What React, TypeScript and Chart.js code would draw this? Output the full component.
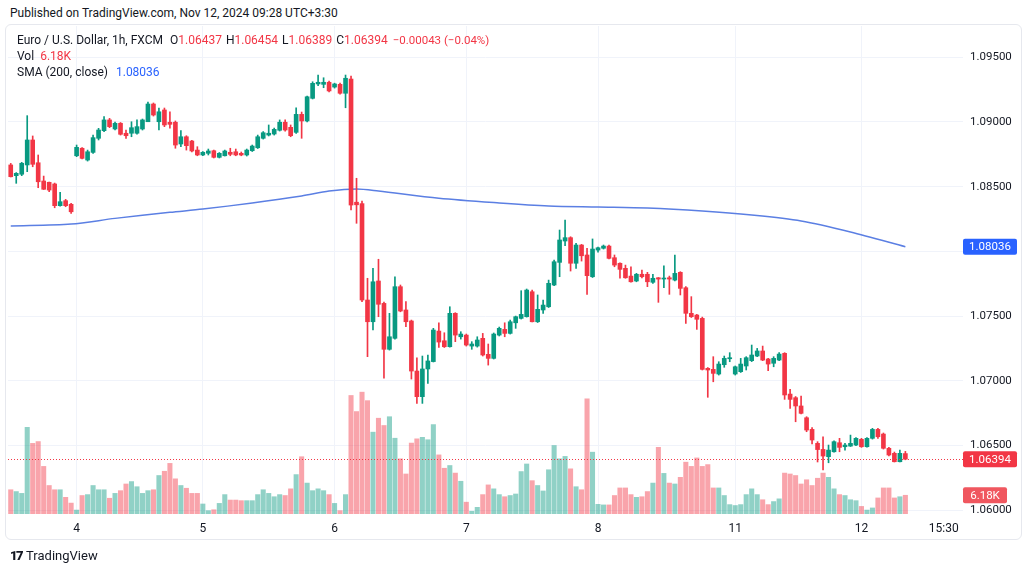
import React, { useEffect, useRef } from "react";
import { Chart, registerables } from "chart.js";

Chart.register(...registerables);

// ---------- DATA (EUR/USD 1h, FXCM) ----------
const openP = [
  1.08668, 1.08585, 1.08596, 1.08668, 1.08861, 1.08685, 1.08544, 1.08534, 1.08521, 1.08353, 1.08392, 1.08364,
  1.08739, 1.08797, 1.08706, 1.08765, 1.08874, 1.08933, 1.09016, 1.08946, 1.08990, 1.08913, 1.08913, 1.08913,
  1.08946, 1.09002, 1.09139, 1.09002, 1.09093, 1.08998, 1.08998, 1.08830, 1.08886, 1.08853, 1.08783, 1.08745,
  1.08758, 1.08778, 1.08727, 1.08739, 1.08766, 1.08770, 1.08758, 1.08745, 1.08778, 1.08801, 1.08874, 1.08899,
  1.08907, 1.08936, 1.08998, 1.08959, 1.08920, 1.09059, 1.09008, 1.09183, 1.09294, 1.09291, 1.09307, 1.09270,
  1.09291, 1.09222, 1.09332, 1.08380, 1.08369, 1.07624, 1.07456, 1.07771, 1.07598, 1.07243, 1.07328, 1.07727,
  1.07547, 1.07462, 1.07075, 1.06877, 1.07091, 1.07148, 1.07384, 1.07309, 1.07263, 1.07521, 1.07340, 1.07353,
  1.07268, 1.07268, 1.07328, 1.07204, 1.07173, 1.07353, 1.07397, 1.07366, 1.07448, 1.07482, 1.07495, 1.07688,
  1.07456, 1.07547, 1.07572, 1.07740, 1.07915, 1.08080, 1.08106, 1.07908, 1.08049, 1.07972, 1.07804, 1.08010,
  1.08024, 1.08041, 1.07951, 1.07908, 1.07869, 1.07809, 1.07771, 1.07823, 1.07823, 1.07761, 1.07796, 1.07786,
  1.07796, 1.07778, 1.07838, 1.07719, 1.07521, 1.07508, 1.07482, 1.07096, 1.07088, 1.07052, 1.07124, 1.07170,
  1.07052, 1.07070, 1.07114, 1.07155, 1.07191, 1.07230, 1.07168, 1.07135, 1.07160, 1.07212, 1.06897, 1.06869,
  1.06805, 1.06714, 1.06624, 1.06516, 1.06469, 1.06413, 1.06451, 1.06521, 1.06490, 1.06495, 1.06503, 1.06547,
  1.06490, 1.06555, 1.06624, 1.06588, 1.06478, 1.06439, 1.06374, 1.06437,
];
const highP = [
  1.08680, 1.08609, 1.08688, 1.09049, 1.08892, 1.08745, 1.08582, 1.08536, 1.08528, 1.08456, 1.08402, 1.08372,
  1.08822, 1.08803, 1.08783, 1.08899, 1.08951, 1.09041, 1.09028, 1.09000, 1.08996, 1.08938, 1.09002, 1.09016,
  1.09023, 1.09154, 1.09147, 1.09108, 1.09108, 1.09079, 1.09008, 1.08933, 1.08894, 1.08859, 1.08809, 1.08772,
  1.08791, 1.08783, 1.08764, 1.08783, 1.08797, 1.08791, 1.08768, 1.08791, 1.08822, 1.08899, 1.08926, 1.08977,
  1.08953, 1.09016, 1.09016, 1.08977, 1.09110, 1.09077, 1.09201, 1.09311, 1.09363, 1.09342, 1.09317, 1.09300,
  1.09301, 1.09363, 1.09355, 1.08565, 1.08389, 1.07792, 1.07869, 1.07939, 1.07608, 1.07521, 1.07804, 1.07740,
  1.07611, 1.07469, 1.07178, 1.07191, 1.07199, 1.07405, 1.07448, 1.07371, 1.07572, 1.07526, 1.07379, 1.07361,
  1.07302, 1.07340, 1.07366, 1.07284, 1.07369, 1.07415, 1.07448, 1.07469, 1.07500, 1.07696, 1.07709, 1.07701,
  1.07663, 1.07624, 1.07778, 1.07933, 1.08165, 1.08242, 1.08113, 1.08062, 1.08054, 1.08024, 1.08096, 1.08034,
  1.08049, 1.08049, 1.07972, 1.07912, 1.07894, 1.07881, 1.07830, 1.07856, 1.07838, 1.07823, 1.07798, 1.07889,
  1.07809, 1.07972, 1.07843, 1.07727, 1.07650, 1.07513, 1.07492, 1.07102, 1.07186, 1.07147, 1.07191, 1.07217,
  1.07114, 1.07173, 1.07186, 1.07276, 1.07250, 1.07268, 1.07173, 1.07186, 1.07217, 1.07217, 1.06934, 1.06878,
  1.06882, 1.06722, 1.06638, 1.06529, 1.06567, 1.06503, 1.06536, 1.06555, 1.06516, 1.06580, 1.06561, 1.06555,
  1.06561, 1.06632, 1.06632, 1.06596, 1.06485, 1.06449, 1.06464, 1.06454,
];
const lowP = [
  1.08575, 1.08526, 1.08585, 1.08616, 1.08654, 1.08492, 1.08478, 1.08461, 1.08337, 1.08350, 1.08345, 1.08294,
  1.08732, 1.08714, 1.08698, 1.08758, 1.08861, 1.08925, 1.08956, 1.08938, 1.08899, 1.08874, 1.08886, 1.08905,
  1.08938, 1.09002, 1.09046, 1.08938, 1.08964, 1.08953, 1.08797, 1.08809, 1.08783, 1.08768, 1.08739, 1.08740,
  1.08745, 1.08722, 1.08722, 1.08737, 1.08739, 1.08739, 1.08739, 1.08737, 1.08772, 1.08795, 1.08868, 1.08892,
  1.08899, 1.08930, 1.08930, 1.08886, 1.08912, 1.08874, 1.09000, 1.09178, 1.09280, 1.09265, 1.09232, 1.09262,
  1.09216, 1.09110, 1.08320, 1.08217, 1.07611, 1.07186, 1.07392, 1.07495, 1.07019, 1.07237, 1.07322, 1.07533,
  1.07418, 1.07013, 1.06825, 1.06825, 1.06980, 1.07145, 1.07258, 1.07257, 1.07260, 1.07302, 1.07322, 1.07268,
  1.07243, 1.07260, 1.07191, 1.07121, 1.07168, 1.07346, 1.07340, 1.07361, 1.07405, 1.07477, 1.07492, 1.07454,
  1.07450, 1.07521, 1.07566, 1.07734, 1.07804, 1.08044, 1.07848, 1.07869, 1.07925, 1.07668, 1.07798, 1.07993,
  1.08018, 1.07941, 1.07881, 1.07792, 1.07792, 1.07761, 1.07765, 1.07794, 1.07727, 1.07753, 1.07606, 1.07719,
  1.07668, 1.07771, 1.07663, 1.07444, 1.07489, 1.07397, 1.07083, 1.06872, 1.06992, 1.07044, 1.07104, 1.07147,
  1.07044, 1.07064, 1.07083, 1.07148, 1.07186, 1.07155, 1.07077, 1.07108, 1.07155, 1.06856, 1.06787, 1.06683,
  1.06743, 1.06606, 1.06511, 1.06372, 1.06310, 1.06366, 1.06447, 1.06451, 1.06464, 1.06492, 1.06499, 1.06485,
  1.06487, 1.06549, 1.06555, 1.06472, 1.06418, 1.06372, 1.06372, 1.06389,
];
const closeP = [
  1.08577, 1.08603, 1.08681, 1.08861, 1.08673, 1.08538, 1.08480, 1.08474, 1.08353, 1.08384, 1.08353, 1.08306,
  1.08804, 1.08719, 1.08770, 1.08879, 1.08938, 1.09016, 1.08964, 1.08990, 1.08905, 1.08894, 1.08956, 1.08964,
  1.09016, 1.09139, 1.09054, 1.09079, 1.08977, 1.08982, 1.08822, 1.08886, 1.08817, 1.08776, 1.08745, 1.08766,
  1.08776, 1.08727, 1.08758, 1.08776, 1.08750, 1.08745, 1.08745, 1.08783, 1.08814, 1.08886, 1.08917, 1.08913,
  1.08943, 1.08998, 1.08938, 1.08894, 1.09059, 1.09008, 1.09195, 1.09299, 1.09307, 1.09307, 1.09240, 1.09294,
  1.09222, 1.09338, 1.08358, 1.08360, 1.07624, 1.07456, 1.07765, 1.07591, 1.07243, 1.07340, 1.07727, 1.07539,
  1.07456, 1.07075, 1.06877, 1.07091, 1.07153, 1.07392, 1.07299, 1.07263, 1.07521, 1.07353, 1.07361, 1.07276,
  1.07284, 1.07315, 1.07199, 1.07173, 1.07361, 1.07405, 1.07366, 1.07456, 1.07495, 1.07513, 1.07701, 1.07456,
  1.07552, 1.07585, 1.07753, 1.07920, 1.08088, 1.08106, 1.07908, 1.08049, 1.07966, 1.07812, 1.08018, 1.08028,
  1.08041, 1.07946, 1.07894, 1.07861, 1.07796, 1.07765, 1.07823, 1.07804, 1.07765, 1.07792, 1.07786, 1.07794,
  1.07786, 1.07830, 1.07714, 1.07521, 1.07495, 1.07475, 1.07088, 1.07083, 1.07057, 1.07129, 1.07173, 1.07178,
  1.07108, 1.07129, 1.07178, 1.07199, 1.07230, 1.07160, 1.07129, 1.07173, 1.07206, 1.06890, 1.06856, 1.06805,
  1.06748, 1.06619, 1.06542, 1.06468, 1.06418, 1.06464, 1.06529, 1.06485, 1.06503, 1.06516, 1.06555, 1.06490,
  1.06555, 1.06624, 1.06567, 1.06478, 1.06426, 1.06374, 1.06439, 1.06394,
];
// volume in thousands
const volumeK = [
  8.0, 7.4, 6.8, 28.6, 23.3, 23.9, 15.7, 9.4, 8.0, 8.0, 5.5, 3.6,
  1.3, 6.1, 6.4, 9.4, 8.0, 8.0, 5.2, 6.8, 7.7, 9.9, 10.7, 9.0,
  6.8, 7.7, 8.0, 12.7, 14.1, 16.7, 11.6, 9.4, 8.5, 6.8, 6.8, 3.3,
  1.1, 1.4, 3.5, 6.4, 4.6, 4.6, 4.4, 4.4, 4.4, 6.4, 8.0, 6.8,
  5.7, 6.4, 6.1, 8.3, 13.0, 18.9, 10.2, 7.7, 8.3, 7.7, 6.4, 3.5,
  1.1, 6.4, 39.1, 33.8, 40.2, 37.4, 27.0, 31.6, 29.2, 32.1, 25.0, 18.2,
  13.2, 23.4, 24.8, 25.3, 24.5, 29.5, 19.5, 15.1, 16.0, 13.5, 10.8, 3.9,
  0.9, 2.2, 6.4, 9.6, 8.3, 6.4, 5.7, 6.1, 6.6, 14.0, 16.5, 11.0,
  9.4, 7.6, 14.6, 22.6, 18.2, 19.0, 14.9, 9.0, 8.0, 38.0, 20.4, 3.2,
  3.0, 3.0, 6.1, 8.6, 8.6, 6.4, 5.5, 5.7, 7.4, 10.2, 22.0, 13.4,
  10.2, 9.9, 12.1, 17.1, 15.7, 18.5, 15.7, 16.3, 8.6, 8.6, 6.1, 3.1,
  2.8, 3.1, 6.4, 8.3, 6.4, 4.7, 3.1, 4.1, 5.0, 13.5, 13.2, 12.7,
  9.9, 11.3, 9.4, 11.8, 13.5, 12.1, 8.3, 6.4, 6.1, 4.7, 4.4, 2.5,
  1.3, 2.0, 5.3, 8.6, 8.6, 5.3, 5.7, 6.18,
];
// SMA(200, close) readings: [bar index, value]
const smaReadings: [number, number][] = [
  [0, 1.08196], [11, 1.08211], [19, 1.08255], [29, 1.08302], [35, 1.08327], [44, 1.08374],
  [53, 1.08428], [58, 1.08466], [63, 1.08482], [67, 1.08466], [78, 1.08410], [89, 1.08374],
  [98, 1.08351], [107, 1.08343], [116, 1.08335], [126, 1.08312], [135, 1.08281], [144, 1.08235],
  [153, 1.08150], [163, 1.08036],
];
const timeTicks: Record<number, string> = {
  12: "4", 35: "5", 59: "6", 83: "7", 107: "8", 132: "11", 155: "12", 170: "15:30",
};
const TOTAL_SLOTS = 174;
const priceTickStep = 0.005;

const UP = "#089981";
const DOWN = "#F23645";
const UP_VOL = "rgba(8,153,129,0.45)";
const DOWN_VOL = "rgba(242,54,69,0.45)";
const SMA_COLOR = "#5b7fe3";
const FONT = "Roboto, 'Noto Sans', sans-serif";
const TEXT = "#131722";

export default function App() {
  const canvasRef = useRef<HTMLCanvasElement | null>(null);

  useEffect(() => {
    const canvas = canvasRef.current;
    if (!canvas) return;
    const n = openP.length;
    const labels = Array.from({ length: TOTAL_SLOTS }, (_, i) => String(i));
    const isUp = (i: number) => closeP[i] >= openP[i];
    const bodies = openP.map((o, i) => [o, closeP[i]]);
    const wicks = lowP.map((l, i) => [l, highP[i]]);
    const candleColors = openP.map((_, i) => (isUp(i) ? UP : DOWN));
    const volColors = openP.map((_, i) => (isUp(i) ? UP_VOL : DOWN_VOL));
    const smaData: (number | null)[] = Array.from({ length: TOTAL_SLOTS }, () => null);
    smaReadings.forEach(([i, v]) => (smaData[i] = v));
    const lastClose = closeP[n - 1];
    const lastVol = volumeK[n - 1];
    const lastSma = smaReadings[smaReadings.length - 1][1];

    const overlay = {
      id: "tvOverlay",
      afterDatasetsDraw(chart: any) {
        const { ctx, chartArea, scales } = chart;
        const y = Math.round(scales.y.getPixelForValue(lastClose)) + 0.5;
        ctx.save();
        ctx.strokeStyle = DOWN;
        ctx.lineWidth = 1;
        ctx.setLineDash([1, 2]);
        ctx.beginPath();
        ctx.moveTo(chartArea.left, y);
        ctx.lineTo(chartArea.right, y);
        ctx.stroke();
        ctx.restore();
      },
      afterDraw(chart: any) {
        const { ctx, chartArea, scales } = chart;
        const box = (text: string, color: string, w: number, yPix: number) => {
          const x = chartArea.right;
          const h = 16;
          ctx.save();
          ctx.fillStyle = color;
          ctx.beginPath();
          (ctx as any).roundRect ? (ctx as any).roundRect(x, yPix - h / 2, w, h, 2) : ctx.rect(x, yPix - h / 2, w, h);
          ctx.fill();
          ctx.fillStyle = "#ffffff";
          ctx.font = `11.5px ${FONT}`;
          ctx.textAlign = "center";
          ctx.textBaseline = "middle";
          ctx.fillText(text, x + w / 2, yPix + 0.5);
          ctx.restore();
        };
        box(lastSma.toFixed(5), "#2962FF", 54, scales.y.getPixelForValue(lastSma));
        box(lastClose.toFixed(5), DOWN, 54, scales.y.getPixelForValue(lastClose));
        box(lastVol.toFixed(2) + "K", "#F0575F", 44, scales.yVol.getPixelForValue(lastVol));
      },
    };

    const chart = new Chart(canvas, {
      type: "bar",
      data: {
        labels,
        datasets: [
          {
            type: "bar",
            label: "body",
            data: bodies as any,
            backgroundColor: candleColors,
            barThickness: 4,
            minBarLength: 1,
            grouped: false,
            order: 1,
            yAxisID: "y",
          },
          {
            type: "bar",
            label: "wick",
            data: wicks as any,
            backgroundColor: candleColors,
            barThickness: 1,
            minBarLength: 1,
            grouped: false,
            order: 2,
            yAxisID: "y",
          },
          {
            type: "line",
            label: "SMA",
            data: smaData as any,
            borderColor: SMA_COLOR,
            borderWidth: 1.5,
            pointRadius: 0,
            spanGaps: true,
            tension: 0.3,
            order: 3,
            yAxisID: "y",
          },
          {
            type: "bar",
            label: "volume",
            data: volumeK,
            backgroundColor: volColors,
            barThickness: 4.4,
            grouped: false,
            order: 5,
            yAxisID: "yVol",
          },
        ],
      },
      options: {
        responsive: false,
        animation: false,
        events: [],
        layout: { padding: { left: 8, top: 26, right: 0, bottom: 0 } },
        plugins: { legend: { display: false }, tooltip: { enabled: false } },
        scales: {
          x: {
            type: "category",
            offset: true,
            border: { display: false },
            grid: {
              offset: false,
              drawTicks: false,
              tickLength: 0,
              color: (c: any) => (timeTicks[c.index] !== undefined && c.index < openP.length ? "#f0f3fa" : "transparent"),
            },
            ticks: {
              autoSkip: false,
              maxRotation: 0,
              padding: 8,
              color: TEXT,
              font: { family: FONT, size: 12 },
              callback: (_v: any, i: number) => timeTicks[i] ?? "",
            },
            afterFit: (s: any) => {
              s.height = 60;
            },
          },
          y: {
            position: "right",
            min: 1.0597,
            max: 1.09742,
            border: { display: false },
            grid: { color: "#f0f3fa", drawTicks: false, tickLength: 0 },
            ticks: {
              stepSize: priceTickStep,
              includeBounds: false,
              padding: 7,
              color: TEXT,
              font: { family: FONT, size: 11.5 },
              callback: (v: any) => Number(v).toFixed(5),
            },
            afterFit: (s: any) => {
              s.width = 67;
            },
          },
          yVol: {
            display: false,
            min: 0,
            max: 161,
          },
        },
      },
      plugins: [overlay],
    });
    return () => chart.destroy();
  }, []);

  const red = { color: DOWN };
  return (
    <div
      style={{
        position: "fixed",
        left: 0,
        top: 0,
        width: 1030,
        height: 574,
        background: "#ffffff",
        overflow: "hidden",
        fontFamily: FONT,
        color: TEXT,
      }}
    >
      <div style={{ position: "absolute", left: 10, top: 6, fontSize: 12, whiteSpace: "nowrap" }}>
        Published on TradingView.com, Nov 12, 2024 09:28 UTC+3:30
      </div>
      <div
        style={{
          position: "absolute",
          left: 5,
          top: 24,
          width: 1017,
          height: 516,
          border: "1px solid #e6e8ee",
          borderRadius: 6,
          boxSizing: "border-box",
        }}
      />
      <canvas ref={canvasRef} width={1030} height={574} style={{ position: "absolute", left: 0, top: 0 }} />
      <div style={{ position: "absolute", left: 17, top: 32, fontSize: 12, lineHeight: "16px", whiteSpace: "nowrap" }}>
        <div>
          <span>Euro / U.S. Dollar, 1h, FXCM</span>
          <span style={{ marginLeft: 7 }}>O</span>
          <span style={red}>1.06437</span>
          <span style={{ marginLeft: 4 }}>H</span>
          <span style={red}>1.06454</span>
          <span style={{ marginLeft: 4 }}>L</span>
          <span style={red}>1.06389</span>
          <span style={{ marginLeft: 4 }}>C</span>
          <span style={red}>1.06394</span>
          <span style={{ ...red, marginLeft: 5, fontSize: 11.5 }}>−0.00043 (−0.04%)</span>
        </div>
        <div>
          <span>Vol</span>
          <span style={{ ...red, marginLeft: 6 }}>6.18K</span>
        </div>
        <div>
          <span>SMA (200, close)</span>
          <span style={{ color: "#2962FF", marginLeft: 8 }}>1.08036</span>
        </div>
      </div>
      <div
        style={{
          position: "absolute",
          left: 10,
          top: 548,
          display: "flex",
          alignItems: "center",
          whiteSpace: "nowrap",
        }}
      >
        <span style={{ fontWeight: 900, fontSize: 13, letterSpacing: -1.5, marginRight: 4 }}>17</span>
        <span style={{ fontSize: 13 }}>TradingView</span>
      </div>
    </div>
  );
}
